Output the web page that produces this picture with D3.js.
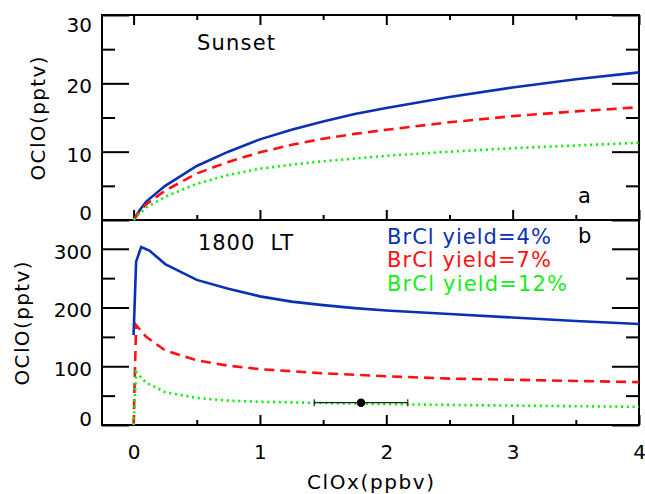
<!DOCTYPE html>
<html>
<head>
<meta charset="utf-8">
<script src="https://cdn.jsdelivr.net/npm/d3@7"></script>
<style>
  html, body { margin: 0; padding: 0; background: #fff; }
  svg { display: block; }
  text { font-family: "DejaVu Sans", sans-serif; }
</style>
</head>
<body>
<svg id="chart" width="645" height="494"></svg>
<script>
// ---- data ----
// Panel a (Sunset)
const xSunset = [0, 0.05, 0.1, 0.25, 0.5, 0.75, 1, 1.25, 1.5, 1.75, 2, 2.5, 3, 3.5, 4];
const sunsetYield4  = [0, 1.5, 2.7, 5.0, 7.9, 10.0, 11.8, 13.2, 14.4, 15.5, 16.4, 18.0, 19.4, 20.6, 21.6];
const sunsetYield7  = [0, 1.3, 2.3, 4.3, 6.8, 8.5, 9.9, 11.0, 11.9, 12.6, 13.2, 14.3, 15.2, 15.9, 16.5];
const sunsetYield12 = [0, 1.0, 1.8, 3.4, 5.3, 6.6, 7.5, 8.1, 8.6, 9.0, 9.4, 10.0, 10.5, 10.9, 11.3];

// Panel b (1800 LT)
const x1800Blue = [0, 0.02, 0.06, 0.125, 0.25, 0.5, 0.75, 1, 1.25, 1.5, 1.75, 2, 2.5, 3, 3.5, 4];
const lt1800Yield4 = [153, 278, 303, 297, 274, 247, 232, 219, 210, 204, 199, 195, 189, 183, 177, 172];
const x1800 = [0, 0.02, 0.1, 0.25, 0.5, 0.75, 1, 1.5, 2, 2.5, 3, 3.5, 4];
const lt1800Yield7  = [0, 170, 150, 127, 110, 101, 95, 88, 83, 79, 77, 75, 73];
const lt1800Yield12 = [0, 90, 72, 56, 46, 41.5, 39.5, 37.5, 35.5, 34.2, 33, 32, 31];

// Observation with horizontal error bar
const obsX = 1.8, obsY = 38, obsXLow = 1.43, obsXHigh = 2.17;

// Ticks and labels
const xMajorTicks = [0, 1, 2, 3, 4];
const xMinorTicks = [0.5, 1.5, 2.5, 3.5];
const yTopMajor = [0, 10, 20, 30];
const yTopMinor = [5, 15, 25];
const yBotMajor = [0, 100, 200, 300];
const yBotMinor = [50, 150, 250];
const legendLabels = ["BrCl yield=4%", "BrCl yield=7%", "BrCl yield=12%"];
const colors = ["#0a30b4", "#ff1010", "#18ec18"];

// ---- layout ----
const L = 102, R = 639, T = 15, MID = 220, B = 425;
const svg = d3.select("#chart");

const x = d3.scaleLinear().domain([-0.25, 4]).range([L, R]);
const yTop = d3.scaleLinear().domain([0, 30]).range([MID, T]);
const yBot = d3.scaleLinear().domain([0, 350]).range([B, MID - 0.6]);

function styleAxis(g, fs) {
  g.select(".domain").remove();
  g.selectAll(".tick line").attr("stroke", "#000").attr("stroke-width", 2);
  g.attr("font-family", "DejaVu Sans, sans-serif").attr("font-size", fs);
  g.selectAll("text").attr("fill", "#000");
}

function addY(scale, major, minor, shiftFn, labelled) {
  const gl = svg.append("g").attr("transform", `translate(${L},0)`)
    .call(d3.axisLeft(scale).tickValues(major).tickSize(-27).tickPadding(10)
      .tickFormat(labelled ? d3.format("d") : ""));
  styleAxis(gl, 20);
  gl.selectAll(".tick text").attr("dy", d => (0.32 * 20 + shiftFn(d)) + "px");
  const gm = svg.append("g").attr("transform", `translate(${L},0)`)
    .call(d3.axisLeft(scale).tickValues(minor).tickSize(-13).tickFormat(""));
  styleAxis(gm, 20);
  const gr = svg.append("g").attr("transform", `translate(${R},0)`)
    .call(d3.axisRight(scale).tickValues(major).tickSize(-27).tickFormat(""));
  styleAxis(gr, 20);
  const grm = svg.append("g").attr("transform", `translate(${R},0)`)
    .call(d3.axisRight(scale).tickValues(minor).tickSize(-13).tickFormat(""));
  styleAxis(grm, 20);
}
addY(yTop, yTopMajor, yTopMinor, d => d === 30 ? 10 : (d === 0 ? -7 : 3), true);
addY(yBot, yBotMajor, yBotMinor, d => d === 0 ? -6 : 3, true);

function addX(yPos, dir, labelled) {
  const axisFn = dir === "down" ? d3.axisTop : d3.axisBottom;
  const g1 = svg.append("g").attr("transform", `translate(0,${yPos})`)
    .call(axisFn(x).tickValues(xMajorTicks).tickSize(-10).tickPadding(20)
      .tickFormat(labelled ? d3.format("d") : ""));
  styleAxis(g1, 20);
  const g2 = svg.append("g").attr("transform", `translate(0,${yPos})`)
    .call(axisFn(x).tickValues(xMinorTicks).tickSize(-5).tickFormat(""));
  styleAxis(g2, 20);
}
addX(T, "down", false);
addX(MID, "up", false);
addX(B, "up", true);

// Frame
svg.append("rect").attr("x", L).attr("y", T).attr("width", R - L).attr("height", B - T)
  .attr("fill", "none").attr("stroke", "#000").attr("stroke-width", 2);
svg.append("line").attr("x1", L).attr("x2", R).attr("y1", MID).attr("y2", MID)
  .attr("stroke", "#000").attr("stroke-width", 2);

// Lines
const dashes = [null, "10,6", "2.2,3.6"];
function drawLine(xs, ys, yScale, i) {
  const line = d3.line().x(d => x(d[0])).y(d => yScale(d[1]));
  svg.append("path")
    .datum(xs.map((v, k) => [v, ys[k]]))
    .attr("d", line)
    .attr("fill", "none")
    .attr("stroke", colors[i])
    .attr("stroke-width", 2.6)
    .attr("stroke-dasharray", dashes[i]);
}
drawLine(xSunset, sunsetYield4, yTop, 0);
drawLine(xSunset, sunsetYield7, yTop, 1);
drawLine(xSunset, sunsetYield12, yTop, 2);
drawLine(x1800Blue, lt1800Yield4, yBot, 0);
drawLine(x1800, lt1800Yield7, yBot, 1);
drawLine(x1800, lt1800Yield12, yBot, 2);

// Observation
const eb = svg.append("g").attr("stroke", "#222").attr("stroke-width", 1.2);
eb.append("line").attr("x1", x(obsXLow)).attr("x2", x(obsXHigh)).attr("y1", yBot(obsY)).attr("y2", yBot(obsY));
[obsXLow, obsXHigh].forEach(v => eb.append("line").attr("x1", x(v)).attr("x2", x(v))
  .attr("y1", yBot(obsY) - 3.5).attr("y2", yBot(obsY) + 3.5));
svg.append("circle").attr("cx", x(obsX)).attr("cy", yBot(obsY)).attr("r", 4.2).attr("fill", "#000");

// Texts
const fs = 21;
svg.append("text").attr("x", 197).attr("y", 50).attr("font-size", fs)
  .attr("textLength", 78).attr("lengthAdjust", "spacing").text("Sunset");
svg.append("text").attr("x", 198).attr("y", 250).attr("font-size", fs)
  .attr("textLength", 95).attr("lengthAdjust", "spacing")
  .style("white-space", "pre").text("1800  LT");
svg.append("text").attr("x", 578).attr("y", 203).attr("font-size", fs).text("a");
svg.append("text").attr("x", 578).attr("y", 243).attr("font-size", fs).text("b");

const legendWidths = [164, 164, 180];
legendLabels.forEach((t, i) => {
  svg.append("text").attr("x", 387).attr("y", 243.5 + i * 23.7)
    .attr("font-size", fs).attr("fill", colors[i])
    .attr("textLength", legendWidths[i]).attr("lengthAdjust", "spacing")
    .text(t);
});

// Axis titles
svg.append("text").attr("x", (L + R) / 2).attr("y", 489).attr("text-anchor", "middle")
  .attr("font-size", 20).attr("textLength", 127).attr("lengthAdjust", "spacing").text("ClOx(ppbv)");
svg.append("text").attr("transform", `translate(45,${(T + MID) / 2 + 1}) rotate(-90)`)
  .attr("text-anchor", "middle").attr("font-size", 20)
  .attr("textLength", 124).attr("lengthAdjust", "spacing").text("OClO(pptv)");
svg.append("text").attr("transform", `translate(29,${(MID + B) / 2 + 1}) rotate(-90)`)
  .attr("text-anchor", "middle").attr("font-size", 20)
  .attr("textLength", 124).attr("lengthAdjust", "spacing").text("OClO(pptv)");
</script>
</body>
</html>
